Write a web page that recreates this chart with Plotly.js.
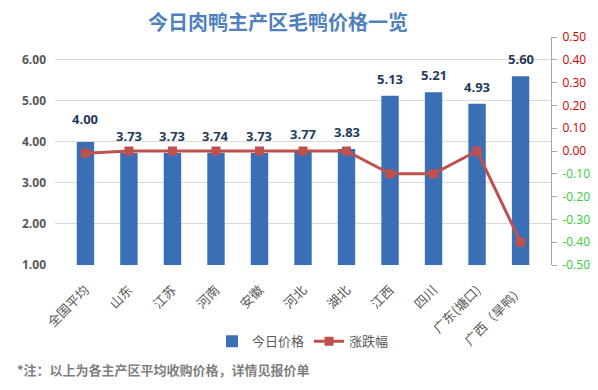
<!DOCTYPE html>
<html><head><meta charset="utf-8">
<script src="https://cdn.plot.ly/plotly-3.0.1.min.js"></script>
<style>body{margin:0;background:#fff}#c{width:598px;height:390px}</style>
</head><body><div id="c"></div>
<script>
const categories = ['全国平均','山东','江苏','河南','安徽','河北','湖北','江西','四川','广东(塘口)','广西（旱鸭）'];
const prices = [4.00,3.73,3.73,3.74,3.73,3.77,3.83,5.13,5.21,4.93,5.60];
const changes = [-0.01,0.00,0.00,0.00,0.00,0.00,0.00,-0.10,-0.10,0.00,-0.40];
const rightTicks = [0.5,0.4,0.3,0.2,0.1,0,-0.1,-0.2,-0.3,-0.4,-0.5];
const leftTicks = [1,2,3,4,5,6];

const rightText = rightTicks.map(v => {
  const col = v < 0 ? '#33cc33' : '#cc0000';
  return '<span style="color:' + col + '">' + v.toFixed(2) + '</span>';
});

const font = '"Microsoft YaHei","Noto Sans CJK SC",sans-serif';
const labelFont = '"Open Sans","Noto Sans",sans-serif';
const data = [
  {type:'bar', name:'今日价格', x:categories, y:prices, width:0.4,
   marker:{color:'#3a6fb5'}},
  {type:'scatter', mode:'lines+markers', name:'涨跌幅', x:categories, y:changes, yaxis:'y2',
   line:{color:'#c0504d', width:3}, marker:{symbol:'square', size:9, color:'#c0504d'}}
];
const annotations = prices.map((v,i) => ({
  text:'<b>' + v.toFixed(2) + '</b>', x:categories[i], y:v, xref:'x', yref:'y',
  yanchor:'bottom', yshift:(i===0 ? 12 : 6), showarrow:false,
  font:{size:13, color:'#1f3b5c', family:labelFont}
}));
annotations.push({text:'<b>*注：以上为各主产区平均收购价格，详情见报价单</b>', xref:'paper', yref:'paper',
    x:-0.08, xanchor:'left', y:-0.46, yanchor:'middle', showarrow:false, font:{size:13, color:'#808080'}});
const layout = {
  width:598, height:390,
  margin:{l:55, r:47, t:37, b:125},
  paper_bgcolor:'#fff', plot_bgcolor:'#fff',
  font:{family:font, color:'#595959'},
  title:{text:'<b>今日肉鸭主产区毛鸭价格一览</b>', x:0.465, xanchor:'center', y:0.94, yanchor:'middle', yref:'container',
    font:{size:20, color:'#4f81bd', family:font}},
  bargap:0.6,
  xaxis:{tickangle:-45, tickfont:{size:13, color:'#595959'}, showline:false, ticks:'', ticklabelstandoff:14, automargin:false},
  yaxis:{range:[1,6.56], tickvals:leftTicks, ticktext:leftTicks.map(v=>v.toFixed(2)),
    gridcolor:'#d9d9d9', zeroline:false, showline:false, ticklabelstandoff:8,
    tickfont:{size:12, color:'#595959', weight:'bold', family:labelFont}, automargin:false},
  yaxis2:{overlaying:'y', side:'right', range:[-0.5,0.5], tickvals:rightTicks, ticktext:rightText,
    showgrid:false, zeroline:false, showline:true, linecolor:'#a6a6a6', ticks:'outside', ticklen:5, tickcolor:'#a6a6a6',
    ticklabelstandoff:3, tickfont:{size:12, family:labelFont}, automargin:false},
  legend:{orientation:'h', x:0.5, xanchor:'center', y:-0.335, yanchor:'middle', font:{size:13, color:'#595959'}},
  annotations:annotations
};
Plotly.newPlot('c', data, layout, {displayModeBar:false});
</script></body></html>
